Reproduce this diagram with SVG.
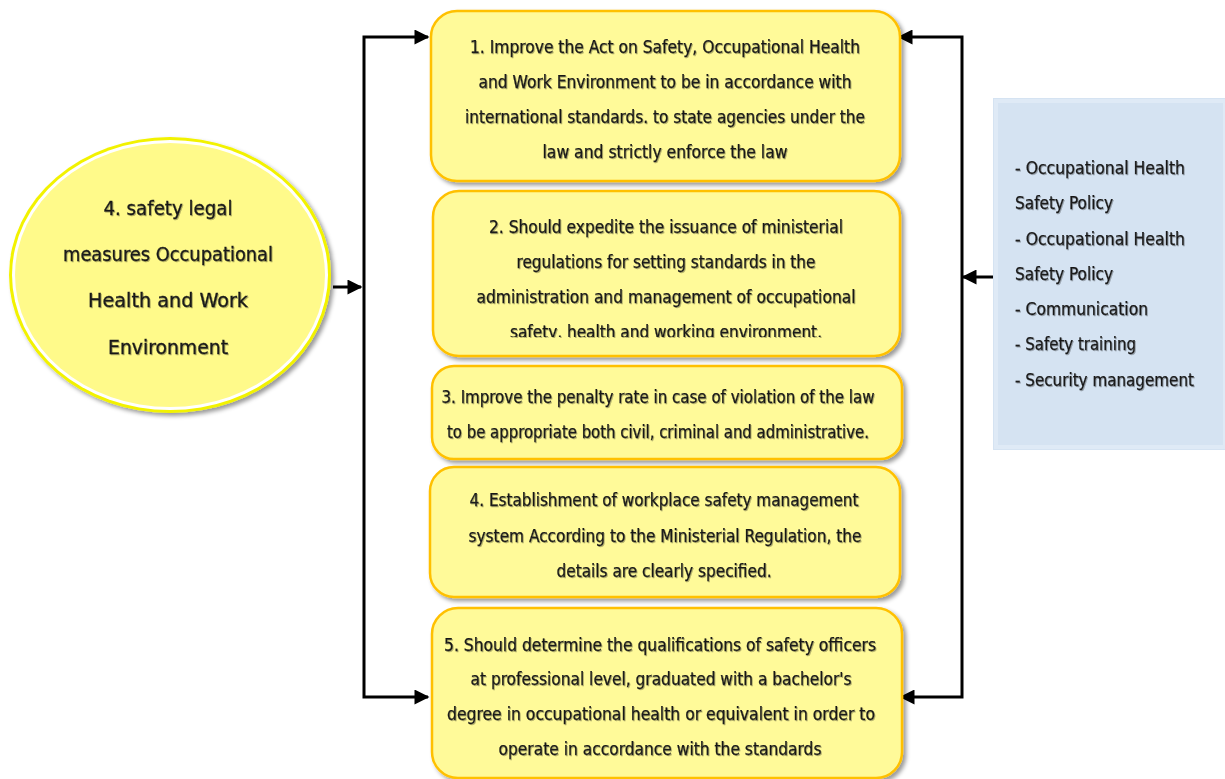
<svg xmlns="http://www.w3.org/2000/svg" width="1225" height="779" viewBox="0 0 1225 779">
<style>
  .box { fill: #FFFA99; stroke: #FFC000; stroke-width: 2.5; }
  .t { font-family: "DejaVu Sans Condensed", "DejaVu Sans", sans-serif; font-size: 17px; fill: #1a1a1a; stroke: #1a1a1a; stroke-width: 0.25; text-anchor: middle; }
  .te { font-family: "DejaVu Sans Condensed", "DejaVu Sans", sans-serif; font-size: 20px; fill: #1a1a1a; stroke: #1a1a1a; stroke-width: 0.3; text-anchor: middle; }
  .tl { font-family: "DejaVu Sans Condensed", "DejaVu Sans", sans-serif; font-size: 17px; fill: #1a1a1a; stroke: #1a1a1a; stroke-width: 0.25; text-anchor: start; }
  .line { fill: none; stroke: #000; stroke-width: 3; stroke-linejoin: miter; }
</style>
<defs>
  <filter id="sh" x="-10%" y="-10%" width="125%" height="130%">
    <feDropShadow dx="3" dy="3" stdDeviation="2" flood-color="#000" flood-opacity="0.4"/>
  </filter>
  <filter id="ts" x="-5%" y="-30%" width="110%" height="160%">
    <feDropShadow dx="1" dy="1" stdDeviation="0.6" flood-color="#000" flood-opacity="0.3"/>
  </filter>
  <marker id="ah" viewBox="0 0 10 10" refX="9" refY="5" markerWidth="5.5" markerHeight="5" markerUnits="strokeWidth" orient="auto-start-reverse">
    <path d="M0,0 L10,5 L0,10 z" fill="#000"/>
  </marker>
  <clipPath id="c2"><rect x="433" y="191" width="468" height="146"/></clipPath>
</defs>
<rect width="1225" height="779" fill="#fff"/>

<g id="connectors">
  <path class="line" d="M333,287 H361" marker-end="url(#ah)"/>
  <path class="line" d="M428,37 H364 V697 H428" marker-start="url(#ah)" marker-end="url(#ah)"/>
  <path class="line" d="M899,37 H962 V697 H901" marker-start="url(#ah)" marker-end="url(#ah)"/>
  <path class="line" d="M993,277 H963" marker-end="url(#ah)"/>
</g>

<g id="ellipse-node">
  <ellipse cx="170" cy="275" rx="161" ry="138" fill="#F2F200" filter="url(#sh)"/>
  <ellipse cx="170" cy="275" rx="158" ry="135" fill="#FFFFFF"/>
  <ellipse cx="170" cy="275" rx="155" ry="132" fill="#FFFA8A"/>
  <g filter="url(#ts)">
    <text class="te" x="168" y="215" textLength="129" lengthAdjust="spacingAndGlyphs">4. safety legal</text>
    <text class="te" x="168" y="261" textLength="210" lengthAdjust="spacingAndGlyphs">measures Occupational</text>
    <text class="te" x="168" y="307" textLength="160" lengthAdjust="spacingAndGlyphs">Health and Work</text>
    <text class="te" x="168" y="354" textLength="120" lengthAdjust="spacingAndGlyphs">Environment</text>
  </g>
</g>

<g id="box1">
  <rect class="box" x="431" y="11" width="469" height="170" rx="26" filter="url(#sh)"/>
  <g filter="url(#ts)">
    <text class="t" x="665" y="53" textLength="390" lengthAdjust="spacingAndGlyphs">1. Improve the Act on Safety, Occupational Health</text>
    <text class="t" x="665" y="88" textLength="373" lengthAdjust="spacingAndGlyphs">and Work Environment to be in accordance with</text>
    <text class="t" x="665" y="123" textLength="400" lengthAdjust="spacingAndGlyphs">international standards. to state agencies under the</text>
    <text class="t" x="665" y="158" textLength="245" lengthAdjust="spacingAndGlyphs">law and strictly enforce the law</text>
  </g>
</g>

<g id="box2">
  <rect class="box" x="433" y="191" width="467" height="165" rx="26" filter="url(#sh)"/>
  <g filter="url(#ts)">
    <text class="t" x="666" y="233" textLength="354" lengthAdjust="spacingAndGlyphs">2. Should expedite the issuance of ministerial</text>
    <text class="t" x="666" y="268" textLength="299" lengthAdjust="spacingAndGlyphs">regulations for setting standards in the</text>
    <text class="t" x="666" y="303" textLength="379" lengthAdjust="spacingAndGlyphs">administration and management of occupational</text>
    <text class="t" x="666" y="338" textLength="312" lengthAdjust="spacingAndGlyphs" clip-path="url(#c2)">safety, health and working environment.</text>
  </g>
</g>

<g id="box3">
  <rect class="box" x="432" y="366" width="470" height="93" rx="22" filter="url(#sh)"/>
  <g filter="url(#ts)">
    <text class="t" x="658" y="403" textLength="433" lengthAdjust="spacingAndGlyphs">3. Improve the penalty rate in case of violation of the law</text>
    <text class="t" x="658" y="438" textLength="422" lengthAdjust="spacingAndGlyphs">to be appropriate both civil, criminal and administrative.</text>
  </g>
</g>

<g id="box4">
  <rect class="box" x="430" y="467" width="470" height="130" rx="24" filter="url(#sh)"/>
  <g filter="url(#ts)">
    <text class="t" x="664" y="506" textLength="389" lengthAdjust="spacingAndGlyphs">4. Establishment of workplace safety management</text>
    <text class="t" x="665" y="542" textLength="393" lengthAdjust="spacingAndGlyphs">system According to the Ministerial Regulation, the</text>
    <text class="t" x="664" y="577" textLength="215" lengthAdjust="spacingAndGlyphs">details are clearly specified.</text>
  </g>
</g>

<g id="box5">
  <rect class="box" x="432" y="608" width="470" height="170" rx="26" filter="url(#sh)"/>
  <g filter="url(#ts)">
    <text class="t" x="660" y="651" textLength="432" lengthAdjust="spacingAndGlyphs">5. Should determine the qualifications of safety officers</text>
    <text class="t" x="661" y="685" textLength="381" lengthAdjust="spacingAndGlyphs">at professional level, graduated with a bachelor's</text>
    <text class="t" x="661" y="720" textLength="428" lengthAdjust="spacingAndGlyphs">degree in occupational health or equivalent in order to</text>
    <text class="t" x="660" y="755" textLength="323" lengthAdjust="spacingAndGlyphs">operate in accordance with the standards</text>
  </g>
</g>

<g id="blue-box">
  <rect x="993" y="98" width="232" height="352" fill="#D5E3F2"/>
  <rect x="996" y="101" width="229" height="346" fill="none" stroke="#DFEAF6" stroke-width="4"/>
  <g filter="url(#ts)">
    <text class="tl" x="1015" y="174" textLength="170" lengthAdjust="spacingAndGlyphs">- Occupational Health</text>
    <text class="tl" x="1015" y="209" textLength="98" lengthAdjust="spacingAndGlyphs">Safety Policy</text>
    <text class="tl" x="1015" y="245" textLength="170" lengthAdjust="spacingAndGlyphs">- Occupational Health</text>
    <text class="tl" x="1015" y="280" textLength="98" lengthAdjust="spacingAndGlyphs">Safety Policy</text>
    <text class="tl" x="1015" y="315" textLength="133" lengthAdjust="spacingAndGlyphs">- Communication</text>
    <text class="tl" x="1015" y="350" textLength="121" lengthAdjust="spacingAndGlyphs">- Safety training</text>
    <text class="tl" x="1015" y="386" textLength="179" lengthAdjust="spacingAndGlyphs">- Security management</text>
  </g>
</g>
</svg>
